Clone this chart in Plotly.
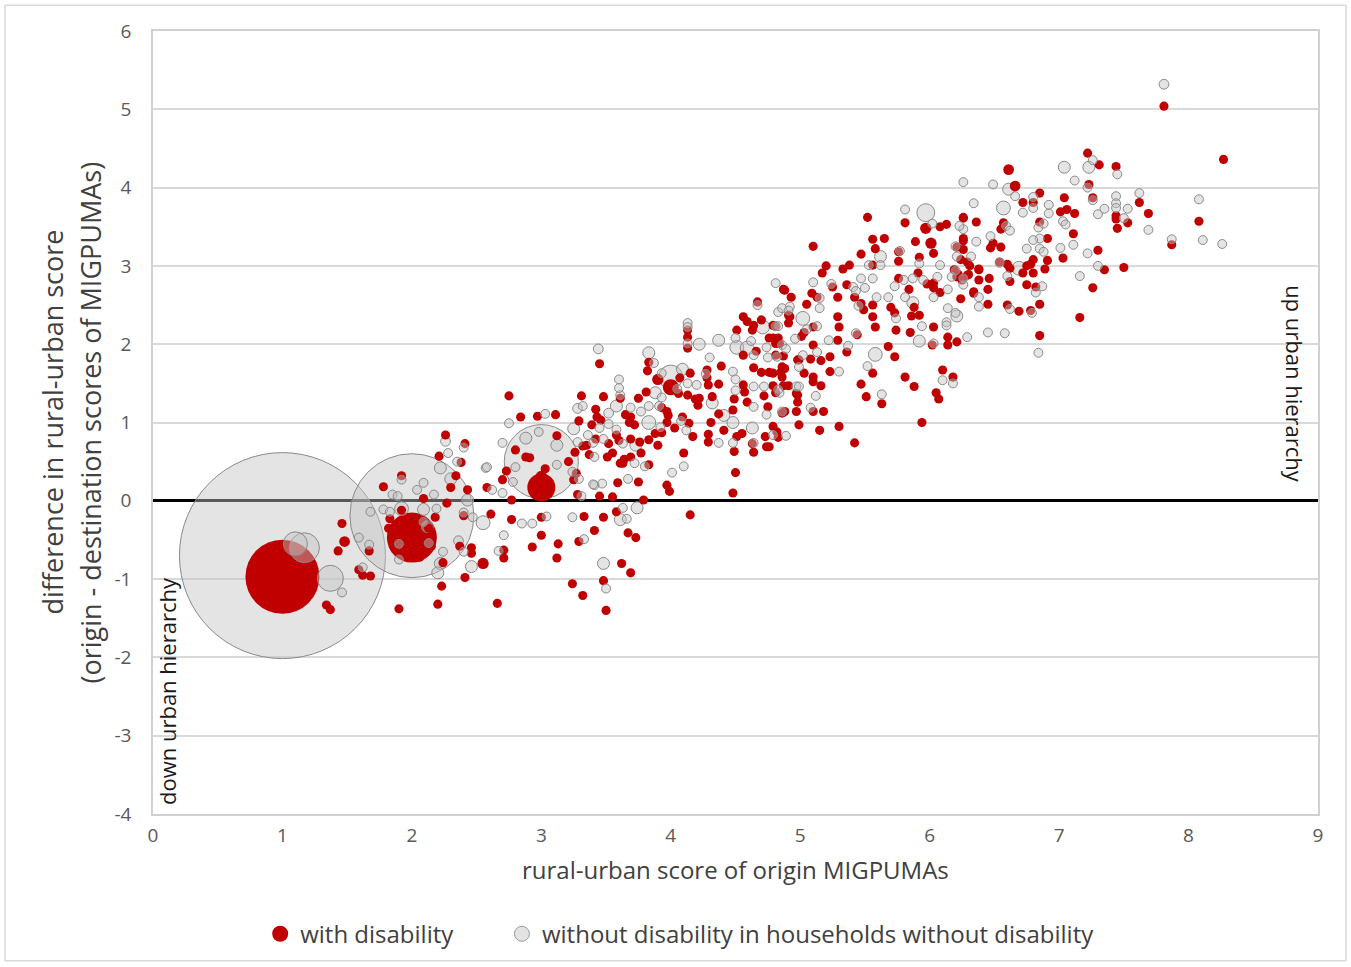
import numpy as np
import plotly.graph_objects as go

# ---------------- data ----------------
# aggregated (large) bubbles: (x, y, weight)
grey_big = [(1.0, -0.70, 663), (2.0, -0.19, 240), (3.0, 0.50, 86), (4.0, 1.58, 9),
            (1.10, -0.55, 9), (1.17, -0.60, 14), (1.37, -0.99, 10.6), (5.97, 3.68, 5)]
red_big = [(1.0, -0.97, 85.6), (2.0, -0.47, 39), (3.0, 0.17, 12.25), (4.0, 1.45, 4),
           (3.0, 0.31, 2), (3.9, 1.55, 2), (5.97, 3.48, 2), (6.01, 3.29, 2),
           (6.61, 4.23, 1.8), (6.66, 4.02, 1.8), (1.48, -0.52, 1.8), (2.55, -0.80, 2)]

# grey points with a medium weight: (x, y, weight)
grey_mid = [(2.26, 0.76, 1.5), (2.22, 0.42, 2.25), (2.30, 0.28, 2.25), (2.43, 0.01, 2.25),
            (2.09, -0.11, 2.25), (2.55, -0.28, 3), (2.12, -0.33, 2.25), (2.36, -0.51, 1.5),
            (2.22, -0.80, 2.25), (2.46, -0.84, 2.25), (2.20, -0.92, 2.25), (1.92, -0.10, 3),
            (2.88, 0.80, 2.25), (3.12, 0.71, 2.25), (3.28, 1.18, 1.5), (3.52, 1.12, 1.5),
            (3.25, 0.92, 2.25), (3.74, -0.09, 2.25), (3.61, -0.24, 2.25), (3.48, -0.80, 2.25),
            (3.44, 1.94, 1.5), (3.58, 1.21, 2.25), (3.73, 0.71, 2.25), (3.83, 1.89, 2.25),
            (3.88, 1.38, 2.25), (3.83, 1.00, 3), (4.09, 1.68, 2.25), (4.22, 2.00, 2.25),
            (4.37, 2.05, 2.25), (4.41, 1.09, 2.25), (4.32, 1.25, 2.25), (4.48, 1.00, 2.25),
            (4.51, 1.96, 3), (4.59, 1.95, 3), (4.71, 2.22, 3), (4.63, 0.93, 2.25),
            (5.62, 3.12, 2.25), (5.58, 1.87, 3), (5.02, 2.33, 3), (6.21, 2.36, 2.25),
            (5.87, 2.53, 2.25), (5.92, 2.04, 2.25), (7.23, 4.26, 2.25), (7.04, 4.26, 2.25),
            (6.61, 3.98, 2.25), (6.57, 3.74, 3), (6.69, 2.97, 3), (7.81, 5.32, 1.5)]

# small grey points (x, y)
grey_pts = [
    (1.46, -1.17), (1.59, -0.47), (1.67, -0.56), (1.62, -0.85), (1.68, -0.14), (1.92, 0.27),
    (1.85, 0.08), (1.89, 0.06), (1.78, -0.11), (1.83, -0.14), (1.90, -0.55), (1.90, -0.75),
    (2.04, 0.14), (2.09, 0.23), (2.40, 0.68), (2.28, 0.61), (2.35, 0.50), (2.57, 0.42),
    (2.17, 0.08), (2.19, -0.10), (2.40, -0.15), (2.47, -0.21), (2.09, -0.27), (2.13, -0.54),
    (2.40, -0.65), (2.24, -0.65), (2.62, 0.14), (2.70, 0.10), (2.78, 0.24), (2.70, 0.74),
    (2.58, 0.43), (2.80, 0.43), (2.75, 0.99), (2.93, -0.29), (2.85, -0.29), (2.71, -0.44),
    (2.67, -0.64), (3.04, -0.20), (2.98, 0.88), (3.12, 0.46), (3.24, 0.37), (3.28, 0.75),
    (3.03, 1.11), (3.61, 1.35), (3.32, 1.21), (3.58, 0.91), (3.48, 0.79), (3.41, 0.56),
    (3.72, 0.48), (3.29, 0.28), (3.47, 0.22), (3.41, 0.20), (3.31, 0.06), (3.24, -0.21),
    (3.33, -0.49), (3.50, -1.12), (3.60, 1.55), (3.60, 1.44), (3.69, 1.19), (3.77, 1.14),
    (3.63, 0.73), (3.80, 0.44), (3.67, 0.28), (3.40, 0.21), (3.63, -0.09), (3.66, -0.23),
    (3.45, 0.93), (3.52, 0.98), (3.40, 0.74), (3.36, 0.84), (3.87, 1.76), (3.93, 1.32),
    (3.83, 1.21), (3.91, 1.21), (3.92, 0.94), (4.12, 0.90), (4.10, 0.44), (4.01, 0.36),
    (4.13, 1.50), (4.05, 1.43), (4.20, 1.48), (4.08, 1.02), (4.13, 2.27), (4.13, 2.22),
    (4.13, 2.01), (4.30, 1.83), (4.48, 1.65), (4.37, 0.74), (4.48, 0.74), (4.27, 1.62),
    (3.93, 1.63), (4.81, 2.78), (4.92, 2.48), (4.67, 2.50), (4.50, 2.08), (4.83, 2.41),
    (4.86, 1.99), (4.74, 1.96), (4.64, 1.86), (4.75, 1.83), (4.82, 1.84), (4.50, 1.55),
    (4.64, 1.46), (4.72, 1.46), (4.50, 1.41), (4.84, 1.38), (4.97, 1.46), (4.64, 1.20),
    (4.74, 1.10), (4.79, 0.84), (4.64, 0.74), (4.62, 2.04), (4.81, 2.23), (4.86, 2.46),
    (4.89, 1.94), (6.02, 3.54), (5.81, 3.72), (5.77, 3.19), (5.92, 3.03), (6.08, 3.01),
    (5.47, 2.84), (5.56, 2.84), (5.50, 2.72), (5.45, 2.49), (5.59, 2.60), (5.41, 2.73),
    (5.24, 2.77), (5.37, 1.98), (5.22, 2.05), (5.30, 1.65), (5.52, 1.72), (5.63, 1.36),
    (5.43, 2.14), (5.10, 2.79), (5.15, 2.59), (5.15, 2.46), (5.13, 2.23), (5.05, 2.19),
    (4.91, 2.43), (4.83, 2.23), (4.96, 2.07), (5.13, 1.90), (5.02, 1.86), (4.99, 1.71),
    (5.12, 1.34), (5.08, 1.19), (4.99, 1.46), (4.83, 1.42), (4.86, 1.14), (4.89, 0.83),
    (5.62, 3.01), (5.53, 3.01), (5.43, 2.68), (6.34, 3.80), (6.26, 3.47), (6.23, 3.51),
    (6.21, 3.12), (6.17, 2.86), (6.38, 2.48), (6.14, 2.70), (6.14, 2.46), (6.29, 2.09),
    (6.13, 2.28), (6.03, 2.60), (6.06, 2.86), (5.94, 2.23), (5.81, 2.60), (6.03, 2.01),
    (6.10, 1.54), (6.18, 1.50), (5.74, 2.33), (5.68, 2.60), (5.73, 2.74), (5.80, 2.82),
    (5.87, 2.84), (5.95, 2.82), (6.13, 2.24), (7.26, 4.35), (7.45, 4.17), (7.12, 4.09),
    (6.26, 4.07), (6.49, 4.04), (6.66, 3.89), (6.80, 3.88), (6.92, 3.78), (6.80, 3.74),
    (6.72, 3.68), (6.59, 3.51), (6.62, 3.45), (6.84, 3.49), (6.88, 3.54), (6.92, 3.67),
    (7.03, 3.57), (7.05, 3.53), (7.11, 3.27), (7.01, 3.23), (7.22, 4.00), (7.26, 3.84),
    (7.30, 3.66), (7.35, 3.73), (7.44, 3.89), (7.44, 3.80), (7.44, 3.74), (7.50, 3.61),
    (7.53, 3.73), (7.62, 3.93), (7.69, 3.46), (8.08, 3.85), (7.87, 3.34), (7.22, 3.16),
    (7.30, 3.00), (7.16, 2.87), (6.85, 3.35), (6.80, 3.33), (6.75, 3.22), (6.85, 3.22),
    (6.88, 3.18), (6.60, 2.87), (6.82, 2.66), (6.79, 2.40), (6.62, 2.45), (6.38, 2.60),
    (6.54, 3.04), (6.47, 3.38), (6.36, 3.31), (6.20, 3.25), (6.32, 3.12), (6.20, 2.94),
    (6.26, 2.84), (6.26, 2.76), (6.20, 2.40), (6.45, 2.15), (6.87, 2.74), (8.26, 3.28),
    (8.11, 3.33), (6.84, 1.89), (6.58, 2.14)]

# small red points (x, y)
red_pts = [
    (1.34, -1.33), (1.37, -1.39), (1.46, -0.29), (1.43, -0.64), (1.67, -0.64), (1.59, -0.88),
    (1.62, -0.95), (1.68, -0.96), (1.90, -1.38), (1.78, 0.18), (1.92, 0.32), (1.82, -0.35),
    (1.83, -0.23), (1.92, -0.12), (2.13, -0.35), (2.15, -0.58), (1.88, -0.35), (2.06, -0.72),
    (2.26, 0.84), (2.41, 0.73), (2.21, 0.57), (2.38, 0.49), (2.34, 0.32), (2.30, 0.17),
    (2.43, 0.14), (2.09, 0.03), (2.27, -0.03), (2.18, -0.21), (2.40, -0.19), (2.61, -0.17),
    (2.37, -0.58), (2.46, -0.60), (2.46, -0.67), (2.24, -0.79), (2.41, -0.98), (2.23, -1.09),
    (2.20, -1.32), (2.66, -1.31), (2.58, 0.17), (2.70, 0.27), (2.73, 0.38), (2.77, 0.01),
    (2.77, -0.24), (2.71, -0.63), (2.71, -0.73), (2.93, -0.59), (3.00, -0.44), (3.00, -0.21),
    (2.75, 1.34), (2.84, 1.07), (2.97, 1.08), (3.11, 1.10), (2.80, 0.65), (2.88, 0.56),
    (2.91, 0.55), (3.03, 0.41), (3.12, 0.83), (3.25, 0.27), (3.26, 0.62), (3.21, 0.50),
    (3.31, 1.34), (3.48, 1.33), (3.42, 1.17), (3.29, 1.02), (3.39, 0.97), (3.46, 1.03),
    (3.68, 1.00), (3.72, 0.97), (3.42, 0.79), (3.32, 0.70), (3.37, 0.59), (3.51, 0.56),
    (3.69, 0.56), (3.63, 0.48), (3.27, 0.35), (3.59, 0.23), (3.28, 0.08), (3.45, 0.06),
    (3.55, 0.05), (3.58, -0.14), (3.67, -0.41), (3.73, -0.47), (3.33, -0.20), (3.48, -0.21),
    (3.41, -0.38), (3.29, -0.52), (3.62, -0.80), (3.69, -0.92), (3.48, -1.02), (3.24, -1.06),
    (3.32, -1.21), (3.50, -1.40), (3.13, -0.55), (3.12, -0.73), (3.45, 1.75), (3.43, 1.07),
    (3.61, 1.31), (3.65, 1.10), (3.69, 1.07), (3.75, 1.31), (3.69, 0.79), (3.76, 0.75),
    (3.77, 0.61), (3.83, 0.78), (3.83, 0.46), (3.55, 0.61), (3.61, 0.48), (3.64, 0.53),
    (3.75, 0.24), (3.79, 0.01), (3.60, 0.77), (3.52, 0.73), (3.35, 0.71), (3.58, 0.84),
    (3.83, 1.77), (3.82, 1.66), (3.81, 1.39), (3.97, 1.14), (3.98, 1.09), (3.97, 1.00),
    (3.93, 0.87), (3.88, 0.86), (3.90, 0.71), (4.07, 1.57), (3.93, 1.19), (4.06, 1.37),
    (4.09, 1.07), (4.03, 0.93), (4.10, 0.61), (3.97, 0.20), (3.99, 0.12), (4.15, -0.18),
    (4.14, 0.99), (4.17, 0.82), (4.13, 1.35), (4.15, 1.63), (4.13, 2.18), (4.13, 2.09),
    (4.13, 1.95), (4.21, 1.22), (4.22, 1.31), (4.19, 1.30), (4.32, 1.33), (4.37, 1.49),
    (4.28, 1.57), (4.28, 1.67), (4.29, 1.48), (4.39, 1.72), (4.37, 1.11), (4.31, 1.00),
    (4.29, 0.85), (4.29, 0.75), (4.41, 0.90), (4.48, 1.16), (4.49, 1.30), (4.49, 0.63),
    (4.50, 0.36), (4.48, 0.10), (4.51, 0.82), (4.55, 0.86), (4.88, 2.69), (4.93, 2.60),
    (4.67, 2.54), (4.51, 2.18), (4.56, 2.35), (4.59, 2.29), (4.64, 2.24), (4.70, 2.31),
    (4.63, 2.18), (4.79, 2.24), (4.91, 2.37), (4.91, 2.27), (4.76, 2.08), (4.81, 2.01),
    (4.84, 2.01), (4.66, 1.91), (4.56, 1.86), (4.87, 1.85), (4.98, 1.80), (4.64, 1.70),
    (4.70, 1.64), (4.76, 1.64), (4.85, 1.64), (4.56, 1.48), (4.79, 1.47), (4.87, 1.47),
    (4.57, 1.39), (4.72, 1.34), (4.98, 1.35), (4.59, 1.26), (4.75, 1.20), (4.86, 1.12),
    (4.63, 0.73), (4.74, 0.69), (4.64, 0.62), (4.82, 0.88), (4.87, 2.70), (4.92, 2.35),
    (4.81, 2.23), (4.83, 2.08), (4.79, 2.08), (4.86, 1.71), (4.81, 1.86), (4.88, 1.69),
    (4.79, 1.63), (4.91, 1.47), (4.86, 1.58), (4.81, 1.38), (4.79, 0.95), (4.73, 0.82),
    (5.10, 3.25), (5.52, 3.62), (5.56, 3.34), (5.65, 3.35), (5.58, 3.22), (5.47, 3.15),
    (5.56, 3.01), (5.42, 2.60), (5.47, 2.52), (5.49, 2.44), (5.56, 2.50), (5.56, 2.35),
    (5.58, 2.22), (5.56, 1.63), (5.47, 1.49), (5.51, 1.33), (5.63, 1.24), (5.42, 0.74),
    (5.44, 2.12), (5.33, 2.96), (5.38, 3.01), (5.36, 2.76), (5.29, 2.60), (5.29, 2.35),
    (5.30, 2.22), (5.29, 2.05), (5.36, 1.90), (5.23, 1.65), (5.25, 2.73), (5.17, 2.91),
    (5.20, 3.00), (5.09, 2.65), (5.13, 2.60), (5.05, 2.51), (5.10, 2.22), (5.03, 2.15),
    (5.01, 2.10), (5.10, 1.99), (5.16, 1.79), (5.08, 1.81), (4.99, 1.80), (5.03, 1.63),
    (5.23, 1.84), (5.10, 1.58), (5.10, 1.52), (5.16, 1.47), (5.10, 1.14), (5.18, 1.14),
    (4.97, 1.37), (4.98, 1.26), (4.97, 1.14), (4.99, 0.97), (5.15, 0.90), (5.30, 0.95),
    (4.88, 1.14), (4.83, 0.81), (4.76, 0.69), (5.89, 3.31), (5.81, 3.55), (5.76, 3.18),
    (5.76, 3.06), (5.92, 3.11), (6.03, 3.16), (6.13, 3.53), (6.08, 3.50), (6.26, 3.62),
    (6.26, 3.32), (6.21, 3.24), (6.29, 3.05), (6.19, 2.95), (6.38, 2.95), (6.21, 2.86),
    (6.25, 2.82), (6.29, 2.88), (6.34, 2.67), (6.24, 2.58), (6.08, 2.66), (6.21, 2.03),
    (6.14, 2.09), (6.14, 1.99), (6.03, 2.72), (5.98, 2.77), (6.03, 2.78), (6.03, 2.22),
    (5.84, 2.70), (5.86, 2.36), (5.92, 2.37), (5.88, 2.47), (5.85, 2.15), (6.02, 1.99),
    (5.81, 1.58), (5.88, 1.46), (6.05, 1.38), (6.07, 1.30), (6.10, 1.67), (6.18, 1.58),
    (5.94, 1.00), (5.73, 1.84), (5.68, 1.97), (5.74, 2.18), (5.70, 2.47), (5.76, 2.84),
    (5.91, 2.91), (5.73, 2.40), (7.22, 4.44), (7.31, 4.29), (7.44, 4.27), (6.85, 3.93),
    (6.80, 3.81), (6.72, 3.81), (6.26, 3.61), (6.36, 3.56), (6.57, 3.55), (6.55, 3.47),
    (6.85, 3.56), (7.04, 3.87), (7.01, 3.69), (7.06, 3.72), (7.12, 3.67), (7.11, 3.41),
    (7.03, 3.10), (7.23, 4.04), (7.26, 3.87), (7.44, 3.64), (7.44, 3.60), (7.45, 3.48),
    (7.53, 3.55), (7.62, 3.81), (7.69, 3.67), (8.08, 3.57), (7.87, 3.27), (7.30, 3.20),
    (7.35, 2.95), (7.50, 2.98), (7.26, 2.72), (7.16, 2.34), (6.85, 2.11), (6.91, 3.35),
    (6.80, 3.08), (6.91, 3.07), (6.78, 3.02), (6.75, 3.00), (6.80, 2.91), (6.89, 2.96),
    (6.72, 2.91), (6.62, 2.97), (6.60, 3.02), (6.54, 3.05), (6.62, 2.80), (6.75, 2.76),
    (6.82, 2.73), (6.85, 2.51), (6.69, 2.42), (6.78, 2.43), (6.60, 2.50), (6.45, 2.51),
    (6.46, 2.84), (6.38, 2.82), (6.38, 2.96), (6.45, 2.70), (6.34, 2.65), (6.55, 3.24),
    (6.47, 3.23), (6.49, 3.29), (6.26, 3.35), (6.26, 3.21), (6.24, 3.08), (6.31, 3.00),
    (6.22, 2.89), (6.30, 2.89), (7.81, 5.04), (8.27, 4.36)]

GREY_W = 1.25
RED_W = 1.3

y_ticks = [-4, -3, -2, -1, 0, 1, 2, 3, 4, 5, 6]
y_ticklabels = ["-4", "-3", "-2", "-1", "0", "1", "2", "3", "4", "5", "6"]
x_ticks = [0, 1, 2, 3, 4, 5, 6, 7, 8, 9]

# ---------------- build a single size-sorted trace ----------------
RED = "#c00000"
GREY_FILL = "rgba(195,195,195,0.45)"
GREY_LINE = "#8a8a8a"

xs, ys, ws, fill, line, lw = [], [], [], [], [], []
for (x, y) in grey_pts:
    xs.append(x); ys.append(y); ws.append(GREY_W); fill.append(GREY_FILL); line.append(GREY_LINE); lw.append(1)
for (x, y, w) in grey_mid + grey_big:
    xs.append(x); ys.append(y); ws.append(w); fill.append(GREY_FILL); line.append(GREY_LINE); lw.append(1)
for (x, y) in red_pts:
    xs.append(x); ys.append(y); ws.append(RED_W); fill.append(RED); line.append(RED); lw.append(0)
for (x, y, w) in red_big:
    xs.append(x); ys.append(y); ws.append(w); fill.append(RED); line.append(RED); lw.append(0)

order = np.argsort(-np.array(ws), kind="stable")
xs = np.array(xs)[order]; ys = np.array(ys)[order]; ws = np.array(ws)[order]
fill = [fill[i] for i in order]; line = [line[i] for i in order]; lw = [lw[i] for i in order]

fig = go.Figure()
fig.add_trace(go.Scatter(
    x=xs, y=ys, mode="markers", showlegend=False, hoverinfo="x+y",
    marker=dict(size=ws, sizemode="area", sizeref=1 / 32.0, sizemin=1, opacity=1,
                color=fill, line=dict(color=line, width=lw))))

# legend entries
fig.add_trace(go.Scatter(x=[None], y=[None], mode="markers",
                         name="with disability" + "\u00a0" * 7,
                         marker=dict(size=17, color=RED, opacity=1, line=dict(width=0))))
fig.add_trace(go.Scatter(x=[None], y=[None], mode="markers",
                         name="without disability in households without disability",
                         marker=dict(size=15, color="#e3e3e3", opacity=1, line=dict(color="#9a9a9a", width=1))))

FONT = "Open Sans"
fig.update_layout(
    width=1351, height=967,
    margin=dict(l=153, r=33, t=31, b=152),
    paper_bgcolor="white", plot_bgcolor="white",
    font=dict(family=FONT, color="#404040"),
    xaxis=dict(range=[0, 9], tickvals=x_ticks, showgrid=False, zeroline=False,
               showline=True, mirror=True, linecolor="#d0d0d0", linewidth=1.5,
               ticks="outside", ticklen=3, tickcolor="rgba(0,0,0,0)",
               tickfont=dict(size=19, color="#595959", family=FONT)),
    yaxis=dict(range=[-4, 6], tickvals=y_ticks, ticktext=y_ticklabels,
               showgrid=True, gridcolor="#d9d9d9", gridwidth=1.5,
               zeroline=True, zerolinecolor="black", zerolinewidth=3,
               showline=True, mirror=True, linecolor="#d0d0d0", linewidth=1.5,
               ticks="outside", ticklen=16, tickcolor="rgba(0,0,0,0)",
               tickfont=dict(size=19, color="#595959", family=FONT)),
    legend=dict(orientation="h", x=0.092, xanchor="left", y=-0.152, yanchor="middle",
                font=dict(size=24, color="#404040", family=FONT), itemsizing="trace",
                bgcolor="rgba(0,0,0,0)"),
    shapes=[dict(type="rect", xref="paper", yref="paper", x0=-0.127, x1=1.024, y0=-0.1875, y1=1.033,
                 line=dict(color="#d9d9d9", width=1.5), fillcolor="rgba(0,0,0,0)", layer="below")],
    annotations=[
        dict(text="difference in rural-urban score", xref="paper", yref="paper", x=0, y=0.5,
             xshift=-101, xanchor="center", yanchor="middle", textangle=-90, showarrow=False,
             font=dict(size=27, color="#404040", family=FONT)),
        dict(text="(origin - destination scores of MIGPUMAs)", xref="paper", yref="paper", x=0, y=0.5,
             xshift=-63, xanchor="center", yanchor="middle", textangle=-90, showarrow=False,
             font=dict(size=27, color="#404040", family=FONT)),
        dict(text="rural-urban score of origin MIGPUMAs", xref="paper", yref="paper", x=0.5, y=0,
             yshift=-55, xanchor="center", yanchor="middle", showarrow=False,
             font=dict(size=24, color="#404040", family=FONT)),
        dict(text="down urban hierarchy", xref="x", yref="y", x=0, y=-4, xshift=14, yshift=7,
             xanchor="center", yanchor="bottom", textangle=-90, showarrow=False,
             font=dict(size=22, color="#1a1a1a", family=FONT)),
        dict(text="up urban hierarchy", xref="x", yref="y", x=9, y=2.78, xshift=-23,
             xanchor="center", yanchor="top", textangle=90, showarrow=False,
             font=dict(size=22, color="#1a1a1a", family=FONT)),
    ],
)

fig.write_html("out.html", config={"displayModeBar": False},
               post_script="document.body.style.margin='0';document.body.style.overflow='hidden';")
